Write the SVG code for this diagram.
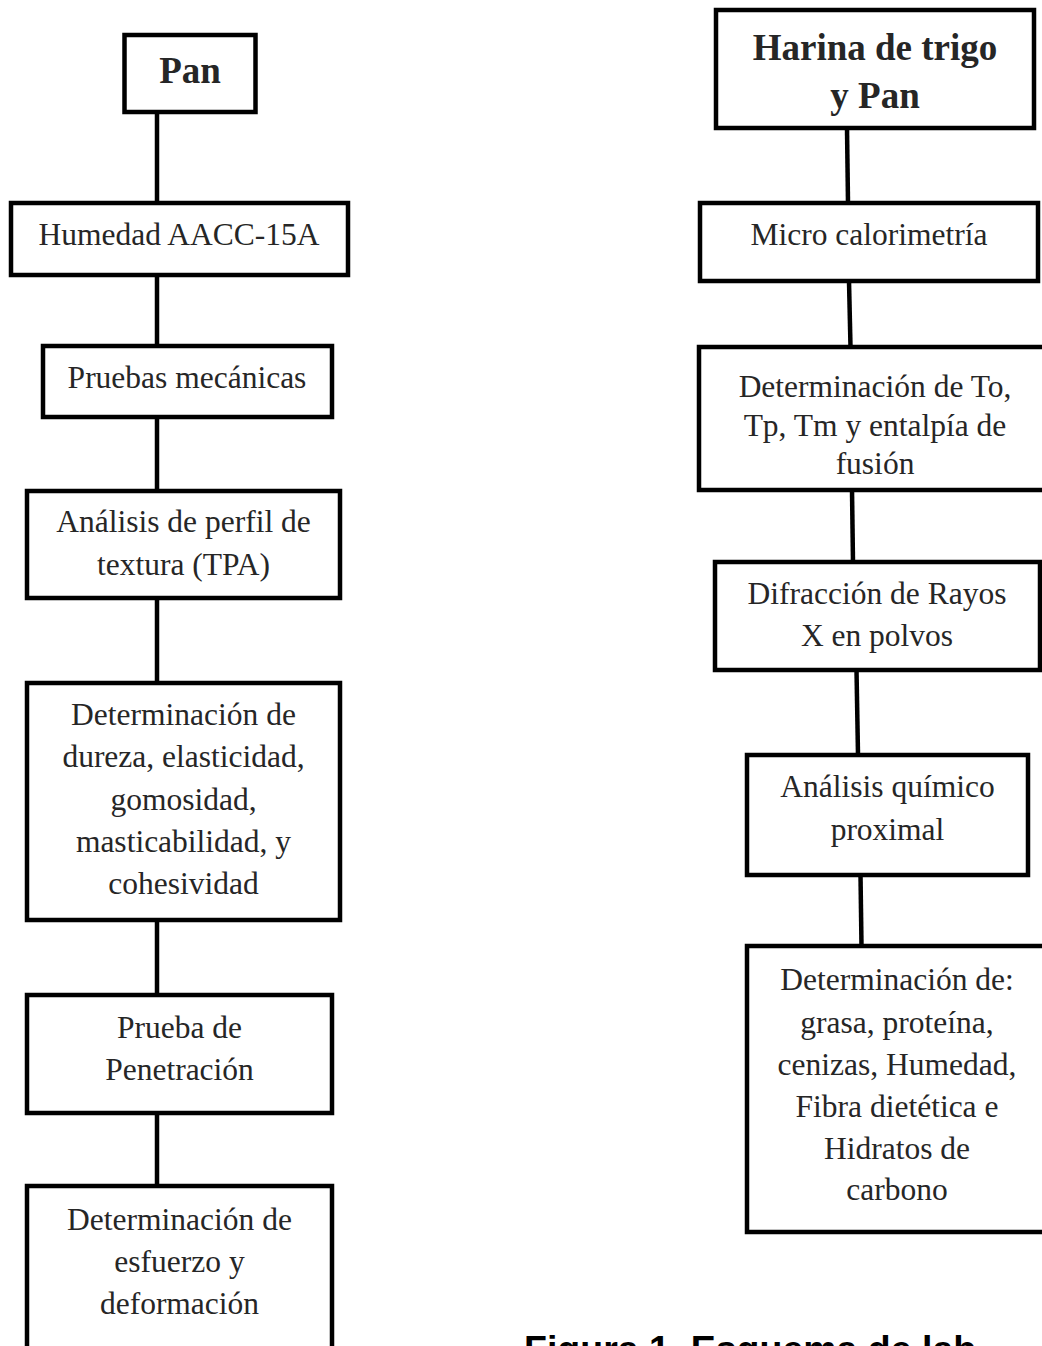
<svg xmlns="http://www.w3.org/2000/svg" width="1042" height="1346" viewBox="0 0 1042 1346">
<style>
.box{fill:#fff;stroke:#000;stroke-width:4.5}
.con{stroke:#000;stroke-width:4.5;fill:none}
.t{font-family:"Liberation Serif","Times New Roman",serif;font-size:31.5px;fill:#262626;text-anchor:middle}
.tb{font-family:"Liberation Serif","Times New Roman",serif;font-size:37px;font-weight:bold;fill:#262626;text-anchor:middle}
.cap{font-family:"Liberation Sans",Arial,sans-serif;font-size:37.5px;font-weight:bold;fill:#000}
</style>
<rect width="1042" height="1346" fill="#fff"/>
<g id="connectors">
<line class="con" x1="157" y1="112" x2="157" y2="203"/>
<line class="con" x1="157" y1="275" x2="157" y2="346"/>
<line class="con" x1="157" y1="417" x2="157" y2="491"/>
<line class="con" x1="157" y1="598" x2="157" y2="683"/>
<line class="con" x1="157" y1="920" x2="157" y2="995"/>
<line class="con" x1="157" y1="1113" x2="157" y2="1186"/>
<line class="con" x1="847" y1="128" x2="848" y2="203"/>
<line class="con" x1="849" y1="281" x2="850.5" y2="347"/>
<line class="con" x1="852" y1="490" x2="853" y2="562"/>
<line class="con" x1="856.5" y1="670" x2="858" y2="755"/>
<line class="con" x1="860.5" y1="875" x2="861.5" y2="946"/>
</g>
<g id="n-pan">
<rect class="box" x="124.5" y="35" width="131" height="77"/>
<text class="tb" x="190" y="83">Pan</text>
</g>
<g id="n-humedad">
<rect class="box" x="11" y="203" width="337" height="72"/>
<text class="t" x="179" y="245">Humedad AACC-15A</text>
</g>
<g id="n-pruebas">
<rect class="box" x="43" y="346" width="289" height="71"/>
<text class="t" x="187" y="388">Pruebas mecánicas</text>
</g>
<g id="n-tpa">
<rect class="box" x="27" y="491" width="313" height="107"/>
<text class="t" x="183.5" y="532">Análisis de perfil de</text>
<text class="t" x="183.5" y="575">textura (TPA)</text>
</g>
<g id="n-dureza">
<rect class="box" x="27" y="683" width="313" height="237"/>
<text class="t" x="183.5" y="725">Determinación de</text>
<text class="t" x="183.5" y="767">dureza, elasticidad,</text>
<text class="t" x="183.5" y="810">gomosidad,</text>
<text class="t" x="183.5" y="852">masticabilidad, y</text>
<text class="t" x="183.5" y="894">cohesividad</text>
</g>
<g id="n-penetracion">
<rect class="box" x="27" y="995" width="305" height="118"/>
<text class="t" x="179.5" y="1038">Prueba de</text>
<text class="t" x="179.5" y="1080">Penetración</text>
</g>
<g id="n-esfuerzo">
<rect class="box" x="27" y="1186" width="305" height="180"/>
<text class="t" x="179.5" y="1230">Determinación de</text>
<text class="t" x="179.5" y="1272">esfuerzo y</text>
<text class="t" x="179.5" y="1314">deformación</text>
</g>
<g id="n-harina">
<rect class="box" x="716" y="10" width="318" height="118"/>
<text class="tb" x="875" y="60">Harina de trigo</text>
<text class="tb" x="875" y="108">y Pan</text>
</g>
<g id="n-micro">
<rect class="box" x="700" y="203" width="338" height="78"/>
<text class="t" x="869" y="245">Micro calorimetría</text>
</g>
<g id="n-to">
<rect class="box" x="699" y="347" width="352" height="143"/>
<text class="t" x="875" y="397">Determinación de To,</text>
<text class="t" x="875" y="436">Tp, Tm y entalpía de</text>
<text class="t" x="875" y="474">fusión</text>
</g>
<g id="n-difraccion">
<rect class="box" x="715" y="562" width="325" height="108"/>
<text class="t" x="877" y="604">Difracción de Rayos</text>
<text class="t" x="877" y="646">X en polvos</text>
</g>
<g id="n-quimico">
<rect class="box" x="747" y="755" width="281" height="120"/>
<text class="t" x="887.5" y="797">Análisis químico</text>
<text class="t" x="887.5" y="840">proximal</text>
</g>
<g id="n-proximal">
<rect class="box" x="747" y="946" width="302" height="286"/>
<text class="t" x="897" y="990">Determinación de:</text>
<text class="t" x="897" y="1033">grasa, proteína,</text>
<text class="t" x="897" y="1075">cenizas, Humedad,</text>
<text class="t" x="897" y="1117">Fibra dietética e</text>
<text class="t" x="897" y="1159">Hidratos de</text>
<text class="t" x="897" y="1200">carbono</text>
</g>
<g id="caption">
<text class="cap" x="524" y="1362">Figura 1. Esquema de lab</text>
</g>
</svg>
